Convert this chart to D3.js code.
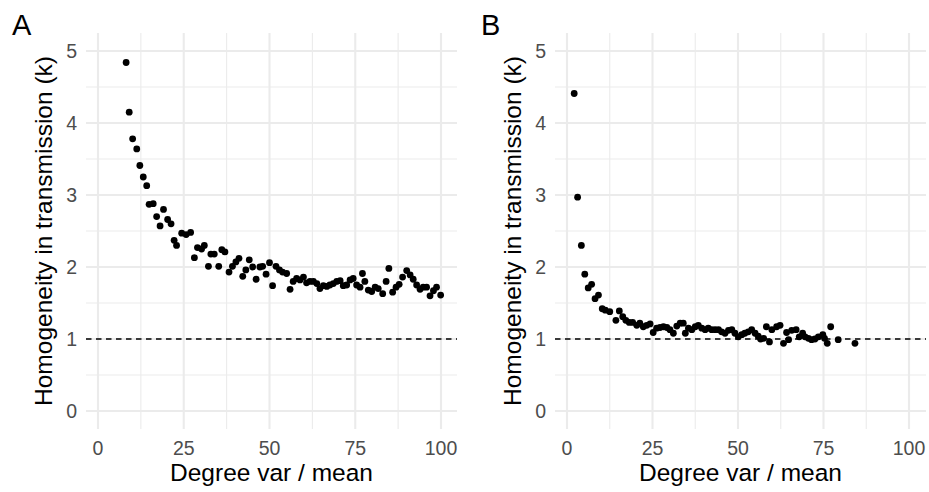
<!DOCTYPE html>
<html lang="en">
<head>
<meta charset="UTF-8">
<script src="https://d3js.org/d3.v7.min.js"></script>
<title>Homogeneity</title>
<style>
  body { margin: 0; background: #fff; }
  svg { display: block; font-family: "Liberation Sans", Arial, sans-serif; }
</style>
</head>
<body>
<svg id="chart"></svg>
<script>
// panel A: degree var/mean vs k
const aX = [8.2, 9.1, 10.1, 11.3, 12.2, 13.2, 14.2, 14.9, 16.1, 17.1, 18.1, 19.1, 20.3, 21.3, 22.2, 22.9,
  24.4, 25.7, 27.0, 28.1, 29.0, 30.2, 31.0, 32.2, 32.9, 33.9, 35.2, 36.1, 37.0, 38.2, 39.2, 40.2, 41.1,
  42.2, 43.1, 44.1, 45.1, 46.1, 47.2, 48.0, 49.0, 50.0, 50.9, 51.9, 52.9, 53.8, 55.0, 56.0, 56.9, 57.9,
  58.9, 59.9, 60.8, 61.8, 62.8, 63.8, 64.7, 65.7, 66.7, 67.6, 68.6, 69.6, 70.6, 71.5, 72.5, 73.5, 74.4,
  75.4, 76.4, 77.1, 77.8, 78.8, 79.8, 80.8, 81.7, 83.0, 84.0, 84.8, 85.9, 86.9, 87.8, 88.8, 90.0, 91.0,
  91.9, 92.9, 93.9, 94.8, 95.8, 96.8, 97.8, 98.7, 99.9];
const aK = [4.84, 4.15, 3.78, 3.64, 3.41, 3.25, 3.13, 2.87, 2.88, 2.70, 2.57, 2.80, 2.66, 2.60, 2.37, 2.30,
  2.47, 2.45, 2.48, 2.13, 2.27, 2.25, 2.30, 2.01, 2.18, 2.18, 2.01, 2.24, 2.21, 1.93, 2.01, 2.07, 2.12,
  1.87, 1.96, 2.10, 2.00, 1.83, 2.00, 2.01, 1.90, 2.06, 1.74, 2.01, 1.96, 1.93, 1.91, 1.69, 1.80, 1.84,
  1.82, 1.86, 1.78, 1.80, 1.80, 1.77, 1.70, 1.74, 1.73, 1.75, 1.77, 1.80, 1.81, 1.74, 1.75, 1.82, 1.84,
  1.75, 1.72, 1.91, 1.80, 1.68, 1.66, 1.72, 1.70, 1.63, 1.80, 1.98, 1.65, 1.72, 1.76, 1.86, 1.95, 1.89,
  1.83, 1.75, 1.69, 1.72, 1.72, 1.60, 1.67, 1.72, 1.61];

// panel B
const bX = [2.1, 3.1, 4.2, 5.2, 6.2, 7.2, 8.2, 9.2, 10.3, 11.2, 12.5, 14.3, 15.3, 16.3, 17.2, 18.2, 19.2,
  20.4, 21.3, 22.3, 23.3, 24.3, 25.2, 26.2, 27.2, 28.2, 29.2, 30.1, 31.1, 32.1, 33.1, 34.0, 34.6, 35.5,
  36.5, 37.5, 38.4, 39.4, 40.4, 41.3, 42.3, 43.3, 44.3, 45.2, 46.2, 47.2, 48.2, 49.1, 50.1, 51.1, 52.0,
  53.0, 54.0, 55.0, 55.9, 56.6, 57.5, 58.3, 59.2, 59.9, 61.3, 62.3, 63.3, 64.2, 64.8, 65.7, 67.0, 67.9,
  68.9, 69.6, 70.6, 71.5, 72.5, 73.5, 74.8, 75.3, 76.1, 77.1, 79.3, 84.2];
const bK = [4.41, 2.97, 2.30, 1.90, 1.71, 1.76, 1.56, 1.61, 1.42, 1.40, 1.38, 1.26, 1.39, 1.31, 1.26, 1.23,
  1.23, 1.19, 1.22, 1.17, 1.19, 1.21, 1.09, 1.15, 1.16, 1.17, 1.16, 1.13, 1.08, 1.18, 1.22, 1.22, 1.08,
  1.15, 1.13, 1.17, 1.19, 1.15, 1.13, 1.15, 1.13, 1.13, 1.13, 1.10, 1.08, 1.12, 1.13, 1.08, 1.03, 1.06,
  1.08, 1.10, 1.13, 1.08, 1.04, 1.00, 1.01, 1.17, 0.96, 1.13, 1.17, 1.19, 0.94, 1.09, 0.99, 1.12, 1.13,
  1.03, 1.08, 1.03, 1.01, 0.99, 1.00, 1.03, 1.06, 1.01, 0.94, 1.17, 0.99, 0.94];

const xTicks = [0, 25, 50, 75, 100];
const xMinor = [12.5, 37.5, 62.5, 87.5];
const yTicks = [0, 1, 2, 3, 4, 5];
const yMinor = [0.5, 1.5, 2.5, 3.5, 4.5];
const refLine = 1;
const xLabel = "Degree var / mean";
const yLabel = "Homogeneity in transmission (k)";

const width = 929, height = 492;
const svg = d3.select("#chart").attr("width", width).attr("height", height);

const y = d3.scaleLinear().domain([0, 5]).range([411, 51]);
const panelTop = 33, panelBottom = 429;

function drawPanel(tag, xs, ks, left, right, x0, x100) {
  const x = d3.scaleLinear().domain([0, 100]).range([x0, x100]);
  const g = svg.append("g");

  // grid
  g.selectAll(".vminor").data(xMinor).join("line")
    .attr("x1", d => x(d)).attr("x2", d => x(d))
    .attr("y1", panelTop).attr("y2", panelBottom)
    .attr("stroke", "#ebebeb").attr("stroke-width", 1.1);
  g.selectAll(".hminor").data(yMinor).join("line")
    .attr("x1", left).attr("x2", right)
    .attr("y1", d => y(d)).attr("y2", d => y(d))
    .attr("stroke", "#ebebeb").attr("stroke-width", 1.1);
  g.selectAll(".vmajor").data(xTicks).join("line")
    .attr("x1", d => x(d)).attr("x2", d => x(d))
    .attr("y1", panelTop).attr("y2", panelBottom)
    .attr("stroke", "#ebebeb").attr("stroke-width", 2.1);
  g.selectAll(".hmajor").data(yTicks).join("line")
    .attr("x1", left).attr("x2", right)
    .attr("y1", d => y(d)).attr("y2", d => y(d))
    .attr("stroke", "#ebebeb").attr("stroke-width", 2.1);

  // reference line
  g.append("line")
    .attr("x1", left).attr("x2", right)
    .attr("y1", y(refLine)).attr("y2", y(refLine))
    .attr("stroke", "#000").attr("stroke-width", 1.3)
    .attr("stroke-dasharray", "5.5,4.5");

  // points
  g.selectAll("circle").data(xs.map((v, i) => [v, ks[i]])).join("circle")
    .attr("cx", d => x(d[0])).attr("cy", d => y(d[1]))
    .attr("r", 3.4).attr("fill", "#000");

  // tick labels
  g.selectAll(".xt").data(xTicks).join("text")
    .attr("x", d => x(d)).attr("y", 455)
    .attr("text-anchor", "middle").attr("font-size", 19.5).attr("fill", "#4d4d4d")
    .text(d => d);
  g.selectAll(".yt").data(yTicks).join("text")
    .attr("x", left - 9).attr("y", d => y(d)).attr("dy", "0.36em")
    .attr("text-anchor", "end").attr("font-size", 19.5).attr("fill", "#4d4d4d")
    .text(d => d);

  // titles
  g.append("text")
    .attr("x", (left + right) / 2).attr("y", 481)
    .attr("text-anchor", "middle").attr("font-size", 24.5).attr("fill", "#000")
    .text(xLabel);
  g.append("text")
    .attr("transform", `translate(${left - 34},${(panelTop + panelBottom) / 2}) rotate(-90)`)
    .attr("text-anchor", "middle").attr("font-size", 24.5).attr("fill", "#000")
    .text(yLabel);

  g.append("text")
    .attr("x", left - 74).attr("y", 35)
    .attr("font-size", 29).attr("fill", "#000")
    .text(tag);
}

drawPanel("A", aX, aK, 86, 457, 98, 441);
drawPanel("B", bX, bK, 555, 926, 567, 909);
</script>
</body>
</html>
